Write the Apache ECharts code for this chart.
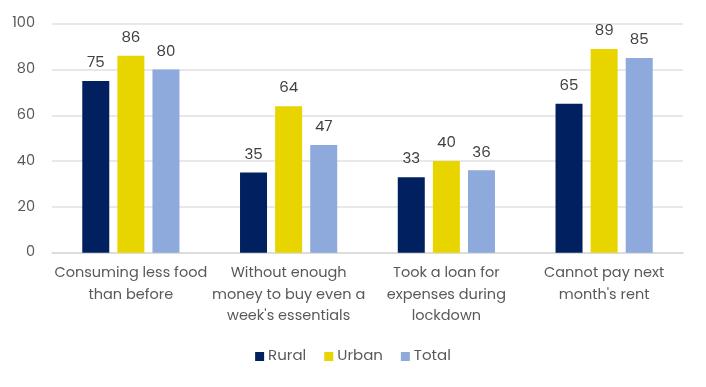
<!DOCTYPE html>
<html><head><meta charset="utf-8">
<script src="https://cdn.jsdelivr.net/npm/echarts@6/dist/echarts.min.js"></script>
<style>html,body{margin:0;padding:0;background:#fff}#c{width:706px;height:387px}</style>
</head><body><div id="c"></div>
<script>
const categories = ["Consuming less food\nthan before", "Without enough\nmoney to buy even a\nweek's essentials", "Took a loan for\nexpenses during\nlockdown", "Cannot pay next\nmonth's rent"];
const rural = [75, 35, 33, 65];
const urban = [86, 64, 40, 89];
const total = [80, 47, 36, 85];
const yTicks = [0, 20, 40, 60, 80, 100];

const font = 'Poppins, "Noto Sans", sans-serif';
const txt = '#595959';
function s(name, data, color) {
  return {name, type: 'bar', data, barWidth: 27, barGap: '30%',
    itemStyle: {color},
    label: {show: true, position: 'top', distance: 10, color: '#404040', fontSize: 15, fontFamily: font}};
}
const chart = echarts.init(document.getElementById('c'));
chart.setOption({
  animation: false,
  grid: {left: 52, right: 23, top: 23.7, bottom: 134.3, containLabel: false},
  legend: {bottom: 18, left: 'center', itemWidth: 9, itemHeight: 9, itemGap: 18, icon: 'rect',
    textStyle: {color: txt, fontSize: 15, fontFamily: font, padding: [0,0,0,-1]}},
  xAxis: {type: 'category', data: categories,
    axisLine: {lineStyle: {color: '#d9d9d9', width: 1.5}}, axisTick: {show: false},
    axisLabel: {color: txt, fontSize: 14.5, fontFamily: font, lineHeight: 21.5, margin: 10, interval: 0}},
  yAxis: {type: 'value', min: yTicks[0], max: yTicks[yTicks.length-1], interval: 20,
    axisLine: {show: false}, axisTick: {show: false},
    splitLine: {lineStyle: {color: '#e0e0e0', width: 1.5}},
    axisLabel: {color: txt, fontSize: 14.5, fontFamily: font, margin: 17}},
  series: [s('Rural', rural, '#00205F'), s('Urban', urban, '#E8D500'), s('Total', total, '#8EA9DB')]
});
</script></body></html>
